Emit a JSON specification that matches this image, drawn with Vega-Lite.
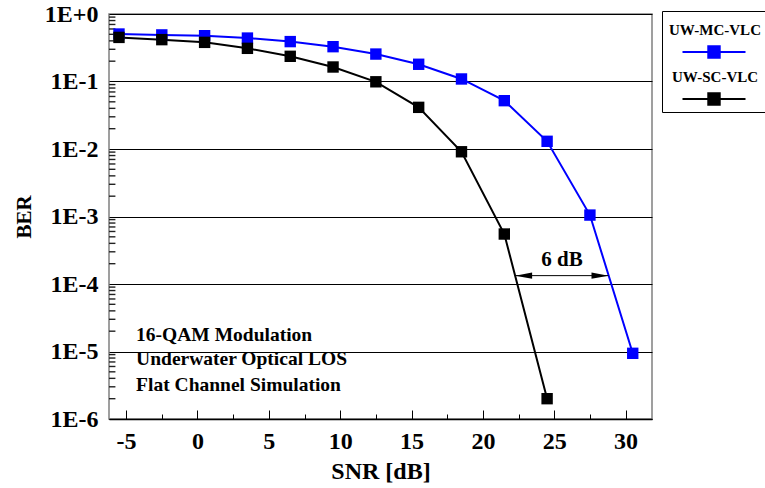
{
  "$schema": "https://vega.github.io/schema/vega-lite/v6.json",
  "width": 543,
  "height": 405,
  "padding": {"left": 13, "top": 2, "right": 0, "bottom": 0},
  "background": "white",
  "config": {
    "view": {"stroke": "#808080", "strokeWidth": 1.5},
    "font": "Liberation Serif",
    "axis": {
      "labelFont": "Liberation Serif",
      "titleFont": "Liberation Serif",
      "labelFontWeight": "bold",
      "titleFontWeight": "bold",
      "labelColor": "black",
      "titleColor": "black",
      "labelFontSize": 24
    }
  },
  "resolve": {"axis": {"x": "independent", "y": "independent"}},
  "datasets": {
    "curves": [
      {"snr": -5.5, "ber": 0.505, "series": "UW-MC-VLC"},
      {"snr": -2.5, "ber": 0.49, "series": "UW-MC-VLC"},
      {"snr": 0.5, "ber": 0.477, "series": "UW-MC-VLC"},
      {"snr": 3.5, "ber": 0.44, "series": "UW-MC-VLC"},
      {"snr": 6.5, "ber": 0.39, "series": "UW-MC-VLC"},
      {"snr": 9.5, "ber": 0.328, "series": "UW-MC-VLC"},
      {"snr": 12.5, "ber": 0.255, "series": "UW-MC-VLC"},
      {"snr": 15.5, "ber": 0.18, "series": "UW-MC-VLC"},
      {"snr": 18.5, "ber": 0.109, "series": "UW-MC-VLC"},
      {"snr": 21.5, "ber": 0.052, "series": "UW-MC-VLC"},
      {"snr": 24.5, "ber": 0.013, "series": "UW-MC-VLC"},
      {"snr": 27.5, "ber": 0.00105, "series": "UW-MC-VLC"},
      {"snr": 30.5, "ber": 0.0000094, "series": "UW-MC-VLC"},
      {"snr": -5.5, "ber": 0.45, "series": "UW-SC-VLC"},
      {"snr": -2.5, "ber": 0.417, "series": "UW-SC-VLC"},
      {"snr": 0.5, "ber": 0.38, "series": "UW-SC-VLC"},
      {"snr": 3.5, "ber": 0.31, "series": "UW-SC-VLC"},
      {"snr": 6.5, "ber": 0.236, "series": "UW-SC-VLC"},
      {"snr": 9.5, "ber": 0.164, "series": "UW-SC-VLC"},
      {"snr": 12.5, "ber": 0.099, "series": "UW-SC-VLC"},
      {"snr": 15.5, "ber": 0.0414, "series": "UW-SC-VLC"},
      {"snr": 18.5, "ber": 0.0091, "series": "UW-SC-VLC"},
      {"snr": 21.5, "ber": 0.00055, "series": "UW-SC-VLC"},
      {"snr": 24.5, "ber": 0.000002, "series": "UW-SC-VLC"}
    ],
    "minorTicks": [
      {"ber": 0.000002}, {"ber": 0.000003}, {"ber": 0.000004}, {"ber": 0.000005}, {"ber": 0.000006}, {"ber": 0.000007}, {"ber": 0.000008}, {"ber": 0.000009},
      {"ber": 0.00002}, {"ber": 0.00003}, {"ber": 0.00004}, {"ber": 0.00005}, {"ber": 0.00006}, {"ber": 0.00007}, {"ber": 0.00008}, {"ber": 0.00009},
      {"ber": 0.0002}, {"ber": 0.0003}, {"ber": 0.0004}, {"ber": 0.0005}, {"ber": 0.0006}, {"ber": 0.0007}, {"ber": 0.0008}, {"ber": 0.0009},
      {"ber": 0.002}, {"ber": 0.003}, {"ber": 0.004}, {"ber": 0.005}, {"ber": 0.006}, {"ber": 0.007}, {"ber": 0.008}, {"ber": 0.009},
      {"ber": 0.02}, {"ber": 0.03}, {"ber": 0.04}, {"ber": 0.05}, {"ber": 0.06}, {"ber": 0.07}, {"ber": 0.08}, {"ber": 0.09},
      {"ber": 0.2}, {"ber": 0.3}, {"ber": 0.4}, {"ber": 0.5}, {"ber": 0.6}, {"ber": 0.7}, {"ber": 0.8}, {"ber": 0.9}
    ],
    "notes": [
      {"snr": -4.3, "ber": 0.0000145, "label": "16-QAM Modulation"},
      {"snr": -4.3, "ber": 0.0000063, "label": "Underwater Optical LOS"},
      {"snr": -4.3, "ber": 0.0000026, "label": "Flat Channel Simulation"}
    ],
    "arrow": [
      {"snr": 22.26, "snr2": 28.8, "ber": 0.000133}
    ],
    "arrowLabel": [
      {"snr": 25.54, "ber": 0.000187, "label": "6 dB"}
    ]
  },
  "layer": [
    {
      "data": {"name": "curves"},
      "mark": {"type": "line", "strokeWidth": 2},
      "encoding": {
        "x": {
          "field": "snr",
          "type": "quantitative",
          "scale": {"domain": [-6.2, 31.85], "nice": false, "zero": false},
          "axis": {
            "orient": "bottom",
            "title": "SNR [dB]",
            "titleFontSize": 24,
            "titlePadding": 6,
            "values": [-5, 0, 5, 10, 15, 20, 25, 30],
            "labelExpr": "'' + datum.value",
            "labelFlush": false,
            "labelOverlap": false,
            "grid": false,
            "domain": false,
            "ticks": true,
            "tickColor": "black",
            "tickWidth": 1,
            "tickSize": 9,
            "offset": -9,
            "labelPadding": 10
          }
        },
        "y": {
          "field": "ber",
          "type": "quantitative",
          "scale": {"type": "log", "domain": [0.000001, 1], "nice": false},
          "axis": {
            "orient": "left",
            "title": "BER",
            "titleFontSize": 21,
            "titlePadding": 10,
            "values": [0.000001, 0.00001, 0.0001, 0.001, 0.01, 0.1, 1],
            "labelExpr": "round(log(datum.value)/LN10) >= 0 ? '1E+' + round(log(datum.value)/LN10) : '1E' + round(log(datum.value)/LN10)",
            "labelOverlap": false,
            "domain": false,
            "grid": true,
            "gridColor": "black",
            "gridWidth": 1,
            "ticks": true,
            "tickOpacity": 0,
            "tickSize": 6,
            "offset": -6,
            "labelPadding": 11
          }
        },
        "color": {
          "field": "series",
          "type": "nominal",
          "scale": {"domain": ["UW-MC-VLC", "UW-SC-VLC"], "range": ["#0000ff", "#000000"]},
          "legend": {
            "title": null,
            "orient": "none",
            "direction": "vertical",
            "legendX": 553,
            "legendY": -3,
            "symbolType": "M-0.7,0.311H0.7M-0.127,0.184H0.127V0.438H-0.127Z",
            "symbolSize": 8100,
            "symbolStrokeWidth": 2,
            "clipHeight": 42,
            "labelAlign": "center",
            "labelOffset": -45,
            "labelBaseline": "bottom",
            "labelFont": "Liberation Serif",
            "labelFontWeight": "bold",
            "labelFontSize": 15,
            "labelColor": "black",
            "labelLimit": 300,
            "strokeColor": "black",
            "fillColor": "white",
            "padding": 6,
            "rowPadding": 5
          }
        }
      }
    },
    {
      "data": {"name": "minorTicks"},
      "mark": {"type": "rule", "color": "#222222", "strokeWidth": 1.4},
      "encoding": {
        "x": {"datum": -6.2, "type": "quantitative", "axis": null},
        "x2": {"datum": -5.75},
        "y": {"field": "ber", "type": "quantitative", "axis": null}
      }
    },
    {
      "data": {"name": "curves"},
      "mark": {"type": "square", "size": 130, "filled": true, "opacity": 1},
      "encoding": {
        "x": {
          "field": "snr",
          "type": "quantitative",
          "axis": {
            "orient": "bottom",
            "title": null,
            "values": [-2.5, 2.5, 7.5, 12.5, 17.5, 22.5, 27.5],
            "labels": false,
            "grid": false,
            "domain": false,
            "ticks": true,
            "tickColor": "black",
            "tickWidth": 1,
            "tickSize": 5,
            "offset": -5
          }
        },
        "y": {"field": "ber", "type": "quantitative", "axis": null},
        "color": {"field": "series", "type": "nominal"}
      }
    },
    {
      "data": {"name": "notes"},
      "mark": {"type": "text", "align": "left", "baseline": "alphabetic", "font": "Liberation Serif", "fontWeight": "bold", "fontSize": 19.5, "color": "black"},
      "encoding": {
        "x": {
          "field": "snr",
          "type": "quantitative",
          "axis": {
            "orient": "bottom",
            "title": null,
            "labels": false,
            "ticks": false,
            "grid": false,
            "domain": true,
            "domainColor": "black",
            "domainWidth": 1.5,
            "offset": 0
          }
        },
        "y": {"field": "ber", "type": "quantitative", "axis": null},
        "text": {"field": "label"}
      }
    },
    {
      "data": {"name": "arrow"},
      "mark": {"type": "rule", "color": "black", "strokeWidth": 1},
      "encoding": {
        "x": {"field": "snr", "type": "quantitative", "axis": null},
        "x2": {"field": "snr2"},
        "y": {"field": "ber", "type": "quantitative", "axis": null}
      }
    },
    {
      "data": {"name": "arrow"},
      "mark": {"type": "point", "shape": "M0,0L2,-0.36L2,0.36Z", "size": 289, "filled": true, "color": "black", "opacity": 1, "strokeWidth": 0},
      "encoding": {
        "x": {"field": "snr", "type": "quantitative", "axis": null},
        "y": {"field": "ber", "type": "quantitative", "axis": null}
      }
    },
    {
      "data": {"name": "arrow"},
      "mark": {"type": "point", "shape": "M0,0L-2,-0.36L-2,0.36Z", "size": 289, "filled": true, "color": "black", "opacity": 1, "strokeWidth": 0},
      "encoding": {
        "x": {"field": "snr2", "type": "quantitative", "axis": null},
        "y": {"field": "ber", "type": "quantitative", "axis": null}
      }
    },
    {
      "data": {"name": "arrowLabel"},
      "mark": {"type": "text", "align": "center", "baseline": "alphabetic", "font": "Liberation Serif", "fontWeight": "bold", "fontSize": 21, "color": "black"},
      "encoding": {
        "x": {"field": "snr", "type": "quantitative", "axis": null},
        "y": {"field": "ber", "type": "quantitative", "axis": null},
        "text": {"field": "label"}
      }
    }
  ]
}
